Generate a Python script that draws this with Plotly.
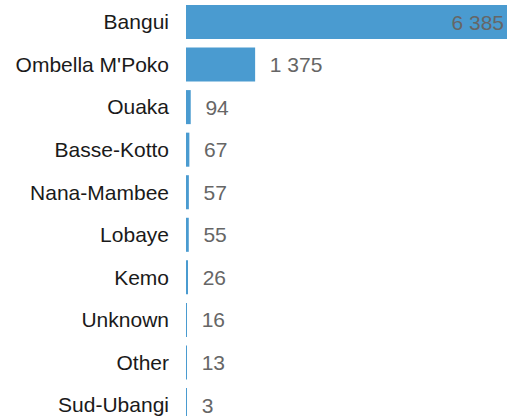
import plotly.graph_objects as go

regions = ["Bangui", "Ombella M'Poko", "Ouaka", "Basse-Kotto", "Nana-Mambee",
           "Lobaye", "Kemo", "Unknown", "Other", "Sud-Ubangi"]
cases = [6385, 1375, 94, 67, 57, 55, 26, 16, 13, 3]

labels = [f"{v:,}".replace(",", " ") for v in cases]
# pad outside labels away from the bar ends
labels = [labels[0]] + ["\u00a0\u00a0" + t for t in labels[1:]]

fig = go.Figure(go.Bar(
    x=cases,
    y=regions,
    orientation="h",
    marker=dict(color="#4a9bd0", line=dict(width=0)),
    text=labels,
    textposition=["inside"] + ["outside"] * (len(cases) - 1),
    insidetextanchor="end",
    textfont=dict(color="#666666", size=21),
    insidetextfont=dict(color="#666666", size=21),
    outsidetextfont=dict(color="#666666", size=21),
    cliponaxis=False,
    hoverinfo="skip",
))

fig.update_layout(
    width=507,
    height=416,
    margin=dict(l=186, r=0, t=0, b=0),
    plot_bgcolor="white",
    paper_bgcolor="white",
    font=dict(family="Liberation Sans, Arial", size=21, color="#1a1a1a"),
    bargap=0.2,
    showlegend=False,
)
fig.update_xaxes(range=[0, 6385], visible=False, fixedrange=True)
fig.update_yaxes(
    categoryorder="array",
    categoryarray=regions,
    range=[9.258, -0.517],
    showgrid=False,
    zeroline=False,
    showline=False,
    ticks="",
    ticklabelstandoff=16,
    tickfont=dict(size=21, color="#1a1a1a"),
)

fig.write_html("out.html", post_script="document.body.style.margin='0';",
               config={"displayModeBar": False})
